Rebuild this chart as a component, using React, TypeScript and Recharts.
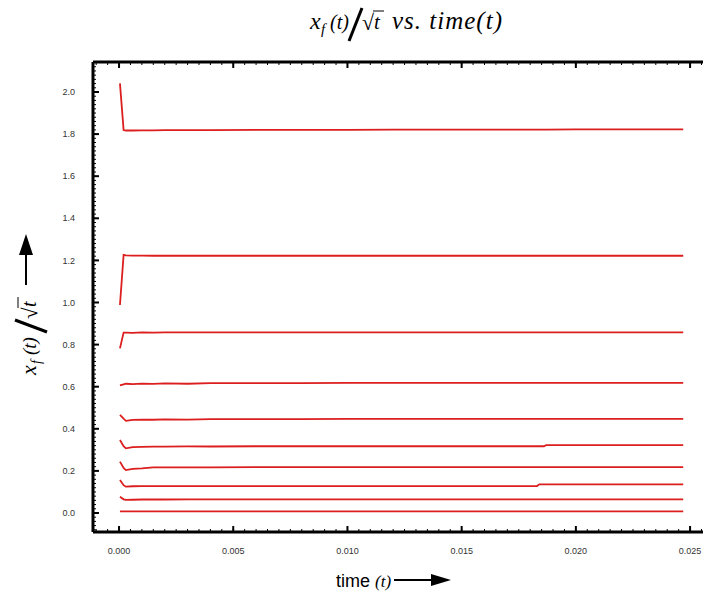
import React from "react";
import { LineChart, Line, XAxis, YAxis } from "recharts";

// ---- data ----
const timeValues = [0.00004, 0.0002, 0.0003, 0.0006, 0.001, 0.0015, 0.002, 0.003, 0.004, 0.006, 0.008, 0.01, 0.012, 0.014, 0.016, 0.0183, 0.0184, 0.0186, 0.0187, 0.02, 0.022, 0.0247];

const series1 = [2.041, 1.819, 1.817, 1.817, 1.818, 1.818, 1.819, 1.819, 1.819, 1.82, 1.82, 1.82, 1.821, 1.821, 1.821, 1.821, 1.821, 1.821, 1.821, 1.822, 1.822, 1.822];
const series2 = [0.988, 1.226, 1.224, 1.223, 1.223, 1.222, 1.223, 1.222, 1.222, 1.222, 1.222, 1.222, 1.222, 1.222, 1.222, 1.222, 1.222, 1.222, 1.222, 1.222, 1.222, 1.222];
const series3 = [0.782, 0.857, 0.857, 0.856, 0.858, 0.857, 0.858, 0.858, 0.858, 0.858, 0.858, 0.858, 0.858, 0.858, 0.858, 0.858, 0.858, 0.858, 0.858, 0.858, 0.858, 0.858];
const series4 = [0.606, 0.611, 0.614, 0.612, 0.615, 0.613, 0.616, 0.614, 0.617, 0.617, 0.617, 0.618, 0.618, 0.618, 0.618, 0.618, 0.618, 0.618, 0.618, 0.618, 0.618, 0.618];
const series5 = [0.466, 0.448, 0.438, 0.442, 0.444, 0.443, 0.445, 0.444, 0.446, 0.446, 0.446, 0.447, 0.447, 0.447, 0.447, 0.447, 0.447, 0.447, 0.447, 0.447, 0.447, 0.447];
const series6 = [0.347, 0.317, 0.307, 0.313, 0.314, 0.315, 0.315, 0.316, 0.316, 0.317, 0.317, 0.317, 0.317, 0.317, 0.317, 0.317, 0.317, 0.317, 0.322, 0.322, 0.322, 0.322];
const series7 = [0.244, 0.214, 0.204, 0.21, 0.212, 0.217, 0.217, 0.217, 0.217, 0.218, 0.218, 0.218, 0.218, 0.218, 0.218, 0.218, 0.218, 0.218, 0.218, 0.218, 0.218, 0.218];
const series8 = [0.157, 0.132, 0.125, 0.127, 0.128, 0.128, 0.128, 0.128, 0.128, 0.128, 0.128, 0.128, 0.128, 0.128, 0.128, 0.128, 0.136, 0.136, 0.136, 0.136, 0.136, 0.136];
const series9 = [0.077, 0.065, 0.062, 0.063, 0.064, 0.064, 0.064, 0.065, 0.065, 0.065, 0.065, 0.065, 0.065, 0.065, 0.065, 0.065, 0.065, 0.065, 0.065, 0.065, 0.065, 0.065];
const series10 = [0.008, 0.008, 0.008, 0.008, 0.008, 0.008, 0.008, 0.008, 0.008, 0.008, 0.008, 0.008, 0.008, 0.008, 0.008, 0.008, 0.008, 0.008, 0.008, 0.008, 0.008, 0.008];

const allSeries = [series1, series2, series3, series4, series5, series6, series7, series8, series9, series10];
const seriesKeys = ["s1", "s2", "s3", "s4", "s5", "s6", "s7", "s8", "s9", "s10"];

const xTickValues = [0, 0.005, 0.01, 0.015, 0.02, 0.025];
const xTickLabels = ["0.000", "0.005", "0.010", "0.015", "0.020", "0.025"];
const yTickValues = [0, 0.2, 0.4, 0.6, 0.8, 1.0, 1.2, 1.4, 1.6, 1.8, 2.0];
const yTickLabels = ["0.0", "0.2", "0.4", "0.6", "0.8", "1.0", "1.2", "1.4", "1.6", "1.8", "2.0"];

// minor tick positions
const xMinorTicks: number[] = [];
for (let k = -2; k <= 51; k++) xMinorTicks.push(+(k * 0.0005).toFixed(4));
const yMinorTicks: number[] = [];
for (let k = -4; k <= 107; k++) yMinorTicks.push(+(k * 0.02).toFixed(2));

const data = timeValues.map((t, i) => {
  const row: Record<string, number> = { t };
  allSeries.forEach((s, j) => {
    row[seriesKeys[j]] = s[i];
  });
  return row;
});

const X_DOMAIN: [number, number] = [-0.00114, 0.02596];
const Y_DOMAIN: [number, number] = [-0.0903, 2.1425];

const LINE_COLOR = "#dc1e1e";
const THIN = 0.001;
const frameLine = { stroke: "#000", strokeWidth: 3 };
const tickLineStyle = { stroke: "#000", strokeWidth: 1 };
const majorTickStyle = { stroke: "#000", strokeWidth: 2 };
const tickFont = { fontSize: 9, fill: "#333", fontFamily: "'Liberation Sans', Arial, sans-serif" };
const noLabel = () => <g />;

const fmtX = (v: number) => {
  const i = xTickValues.findIndex((x) => Math.abs(x - v) < 1e-9);
  return i >= 0 ? xTickLabels[i] : "";
};
const fmtY = (v: number) => {
  const i = yTickValues.findIndex((y) => Math.abs(y - v) < 1e-9);
  return i >= 0 ? yTickLabels[i] : "";
};

const serif = "'Liberation Serif', 'DejaVu Serif', serif";
const sans = "'Liberation Sans', Arial, sans-serif";

export default function App() {
  return (
    <div style={{ position: "absolute", left: 0, top: 0, width: 703, height: 595, overflow: "hidden", background: "#fff" }}>
      <LineChart width={712} height={595} data={data} margin={{ top: 62, right: 0, bottom: 0, left: 0 }}>
        <XAxis xAxisId="x" dataKey="t" type="number" domain={X_DOMAIN} allowDataOverflow ticks={xMinorTicks} tick={noLabel} interval={0} tickSize={3} mirror height={THIN} axisLine={frameLine} tickLine={tickLineStyle} />
        <XAxis xAxisId="xMajor" dataKey="t" type="number" domain={X_DOMAIN} allowDataOverflow ticks={xTickValues} tick={noLabel} interval={0} tickSize={6} mirror height={THIN} axisLine={false} tickLine={majorTickStyle} />
        <XAxis xAxisId="xTop" dataKey="t" type="number" orientation="top" domain={X_DOMAIN} allowDataOverflow ticks={xMinorTicks} tick={noLabel} interval={0} tickSize={3} mirror height={THIN} axisLine={frameLine} tickLine={tickLineStyle} />
        <XAxis xAxisId="xTopMajor" dataKey="t" type="number" orientation="top" domain={X_DOMAIN} allowDataOverflow ticks={xTickValues} tick={noLabel} interval={0} tickSize={6} mirror height={THIN} axisLine={false} tickLine={majorTickStyle} />
        <XAxis xAxisId="xLabel" dataKey="t" type="number" domain={X_DOMAIN} allowDataOverflow ticks={xTickValues} interval={0} tickFormatter={fmtX} tick={tickFont} tickSize={0} tickMargin={16} height={63} axisLine={false} tickLine={false} />

        <YAxis yAxisId="y" type="number" domain={Y_DOMAIN} allowDataOverflow ticks={yMinorTicks} tick={noLabel} interval={0} tickSize={3} mirror width={THIN} axisLine={frameLine} tickLine={tickLineStyle} />
        <YAxis yAxisId="yMajor" type="number" domain={Y_DOMAIN} allowDataOverflow ticks={yTickValues} tick={noLabel} interval={0} tickSize={6} mirror width={THIN} axisLine={false} tickLine={majorTickStyle} />
        <YAxis yAxisId="yLabel" type="number" domain={Y_DOMAIN} allowDataOverflow ticks={yTickValues} interval={0} tickFormatter={fmtY} tick={tickFont} tickSize={0} tickMargin={18} width={93} axisLine={false} tickLine={false} />

        {seriesKeys.map((k) => (
          <Line key={k} xAxisId="x" yAxisId="y" type="linear" dataKey={k} stroke={LINE_COLOR} strokeWidth={1.8} dot={false} activeDot={false} isAnimationActive={false} />
        ))}
      </LineChart>

      <svg width={703} height={595} style={{ position: "absolute", left: 0, top: 0, pointerEvents: "none" }}>
        {/* title */}
        <g fontFamily={serif} fontStyle="italic" fill="#000">
          <text x={310} y={29} fontSize={24}>x</text>
          <text x={321} y={34} fontSize={15}>f</text>
          <text x={330} y={29} fontSize={20}>(t)</text>
          <line x1={349} y1={41} x2={362} y2={8} stroke="#000" strokeWidth={3} />
          <text x={362} y={30} fontSize={22} fontStyle="normal">√</text>
          <line x1={373} y1={11} x2={384} y2={11} stroke="#000" strokeWidth={1} />
          <text x={374} y={29} fontSize={21}>t</text>
          <text x={392} y={29} fontSize={25} letterSpacing={1}>vs. time(t)</text>
        </g>

        {/* y axis label */}
        <g transform="translate(36,375) rotate(-90)" fontFamily={serif} fontStyle="italic" fill="#000">
          <text x={0} y={0} fontSize={22}>x</text>
          <text x={11} y={5} fontSize={14}>f</text>
          <text x={20} y={0} fontSize={19}>(t)</text>
          <line x1={43} y1={11} x2={55} y2={-21} stroke="#000" strokeWidth={3} />
          <text x={56} y={1} fontSize={21} fontStyle="normal">√</text>
          <line x1={67} y1={-18} x2={78} y2={-18} stroke="#000" strokeWidth={1} />
          <text x={68} y={0} fontSize={20}>t</text>
          <line x1={90} y1={-10} x2={122} y2={-10} stroke="#000" strokeWidth={2} />
          <polygon points="120,-17 141,-10 120,-3" fill="#000" />
        </g>

        {/* x axis label */}
        <text x={336} y={587} fontSize={18} fontFamily={sans} fill="#000">time</text>
        <text x={375} y={587} fontSize={17} fontFamily={serif} fontStyle="italic" fill="#000">(t)</text>
        <line x1={394} y1={580} x2={433} y2={580} stroke="#000" strokeWidth={2} />
        <polygon points="431,574 451,580 431,586" fill="#000" />
      </svg>
    </div>
  );
}
